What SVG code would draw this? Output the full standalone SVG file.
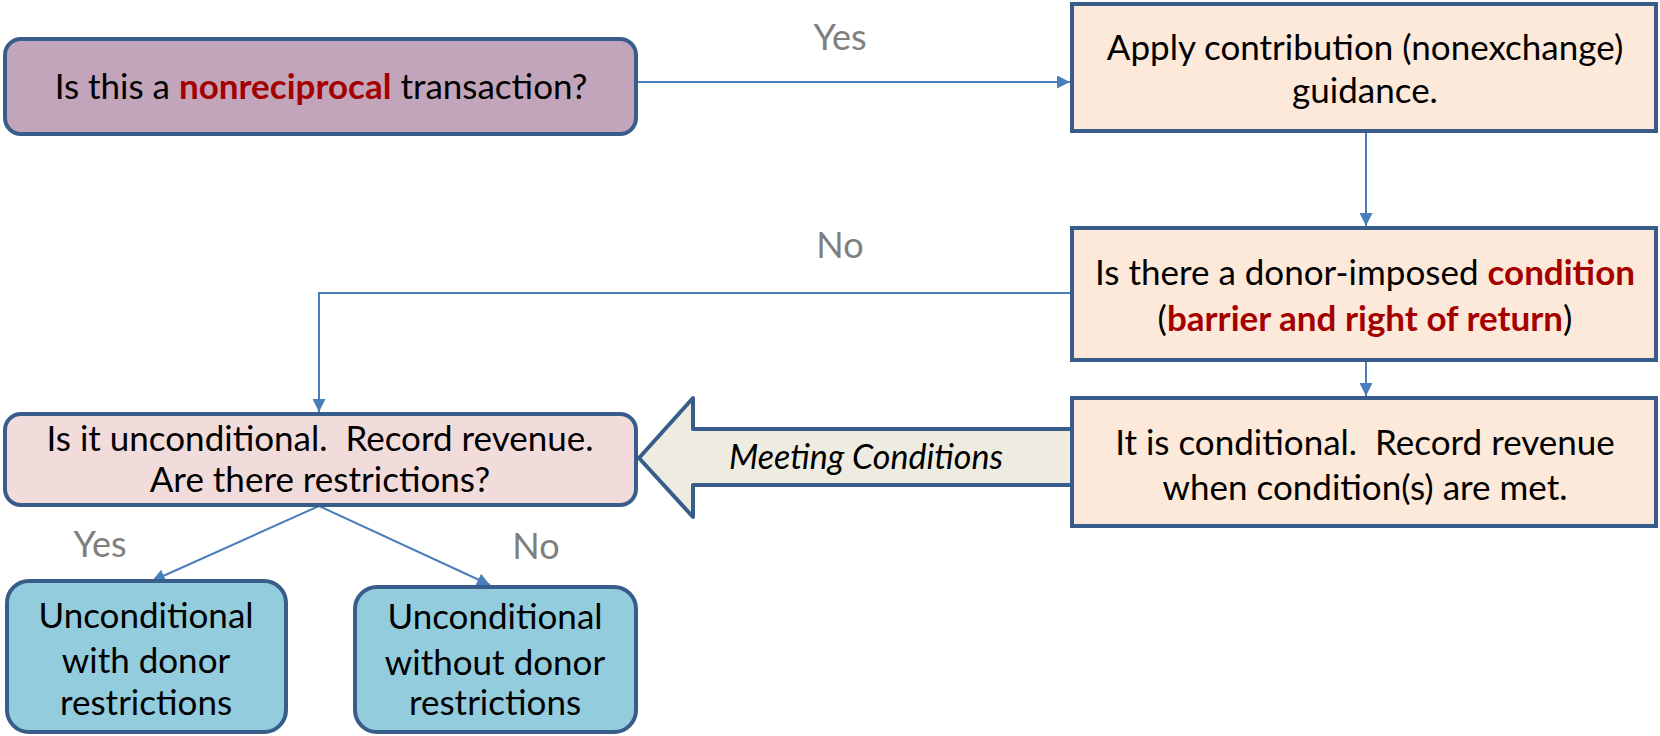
<svg xmlns="http://www.w3.org/2000/svg" width="1660" height="736" viewBox="0 0 1660 736">
<style>
.box{stroke:#385d8a;stroke-width:4}
.t{font-family:Lato,"Liberation Sans",sans-serif;font-size:35px;fill:#000;text-anchor:middle}
.r{fill:#a40000;font-weight:bold}
.lbl{font-family:Lato,"Liberation Sans",sans-serif;font-size:36px;fill:#7f7f7f;text-anchor:middle}
.c{stroke:#4a7ebb;stroke-width:2;fill:none}
</style>
<defs>
<marker id="ah" viewBox="0 0 12 12" refX="12" refY="6" markerWidth="13" markerHeight="13" markerUnits="userSpaceOnUse" orient="auto">
<path d="M0,0 L12,6 L0,12 Z" fill="#4a7ebb"/>
</marker>
</defs>
<g id="connectors">
<line class="c" x1="636" y1="82" x2="1070" y2="82" marker-end="url(#ah)"/>
<line class="c" x1="1366" y1="132" x2="1366" y2="226" marker-end="url(#ah)"/>
<polyline class="c" points="1072,293 319,293 319,412" marker-end="url(#ah)"/>
<line class="c" x1="1366" y1="360" x2="1366" y2="396" marker-end="url(#ah)"/>
<line class="c" x1="319" y1="506" x2="152" y2="581" marker-end="url(#ah)"/>
<line class="c" x1="319" y1="506" x2="490" y2="585" marker-end="url(#ah)"/>
<path id="meeting" d="M639,458 L693,398 L693,429 L1072,429 L1072,485 L693,485 L693,517 Z" fill="#eeece1" stroke="#385d8a" stroke-width="4" stroke-linejoin="round"/>
<text x="866" y="469" font-family="Lato,'Liberation Sans',sans-serif" font-size="34" font-style="italic" text-anchor="middle">Meeting Conditions</text>
<text class="lbl" x="840" y="50">Yes</text>
<text class="lbl" x="840" y="258">No</text>
<text class="lbl" x="100" y="557">Yes</text>
<text class="lbl" x="536" y="559">No</text>
</g>
<g id="n1">
<rect class="box" x="5" y="39" width="631" height="95" rx="16" fill="#c3a5bb"/>
<text class="t" x="321" y="99">Is this a <tspan class="r">nonreciprocal</tspan> transaction?</text>
</g>
<g id="n2">
<rect class="box" x="1072" y="4" width="584" height="127" fill="#fde9d9"/>
<text class="t" x="1365" y="60">Apply contribution (nonexchange)</text>
<text class="t" x="1365" y="103">guidance.</text>
</g>
<g id="n3">
<rect class="box" x="1072" y="228" width="584" height="132" fill="#fde9d9"/>
<text class="t" x="1365" y="285">Is there a donor-imposed <tspan class="r">condition</tspan></text>
<text class="t" x="1365" y="331">(<tspan class="r">barrier and right of return</tspan>)</text>
</g>
<g id="n4">
<rect class="box" x="1072" y="398" width="584" height="128" fill="#fde9d9"/>
<text class="t" x="1365" y="455" xml:space="preserve">It is conditional.  Record revenue</text>
<text class="t" x="1365" y="500">when condition(s) are met.</text>
</g>
<g id="n5">
<rect class="box" x="5" y="414" width="631" height="91" rx="16" fill="#f2dcdb"/>
<text class="t" x="320" y="451" xml:space="preserve">Is it unconditional.  Record revenue.</text>
<text class="t" x="320" y="492">Are there restrictions?</text>
</g>
<g id="n6">
<rect class="box" x="7" y="581" width="279" height="151" rx="22" fill="#93cddd"/>
<text class="t" x="146" y="628">Unconditional</text>
<text class="t" x="146" y="673">with donor</text>
<text class="t" x="146" y="715">restrictions</text>
</g>
<g id="n7">
<rect class="box" x="355" y="587" width="281" height="145" rx="22" fill="#93cddd"/>
<text class="t" x="495" y="629">Unconditional</text>
<text class="t" x="495" y="675">without donor</text>
<text class="t" x="495" y="715">restrictions</text>
</g>
</svg>
